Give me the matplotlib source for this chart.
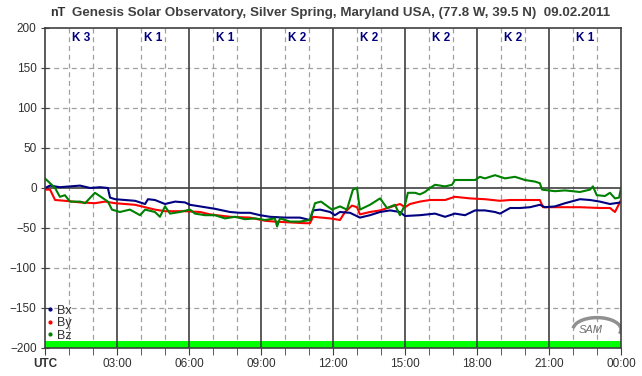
import matplotlib.pyplot as plt
import numpy as np
from matplotlib.lines import Line2D
from matplotlib.patches import Arc

# Magnetometer components (nT), time in UTC hours
bx_t = [0.0, 0.21, 0.62, 1.04, 1.46, 1.88, 2.29, 2.62, 2.71, 2.92, 3.33, 3.75, 4.17, 4.29,
        4.58, 5.0, 5.42, 5.83, 6.04, 6.46, 7.08, 7.71, 8.12, 8.54, 8.96, 9.38, 10.0, 10.62,
        11.04, 11.17, 11.46, 11.88, 12.08, 12.29, 12.71, 13.12, 13.54, 13.96, 14.38, 14.79,
        15.0, 15.62, 16.25, 16.67, 17.08, 17.5, 17.92, 18.33, 18.75, 18.96, 19.38, 19.79,
        20.21, 20.62, 20.83, 21.25, 21.67, 22.29, 22.71, 23.12, 23.54, 24.0]
bx_v = [0, 3, 1, 2, 3, 0, 1, 0, -12, -14, -15, -16, -20, -14,
        -15, -20, -17, -18, -21, -23, -26, -30, -31, -31, -34, -36, -37, -37,
        -40, -28, -27, -30, -34, -30, -31, -37, -34, -30, -28, -30,
        -35, -34, -32, -36, -32, -34, -28, -28, -30, -32, -25, -25,
        -24, -21, -24, -23, -19, -14, -15, -17, -20, -18]

by_t = [0.0, 0.21, 0.42, 0.83, 1.46, 2.08, 2.5, 2.92, 3.33, 3.75, 4.17, 4.58, 5.0, 5.83,
        6.46, 6.88, 7.71, 8.54, 9.17, 9.58, 10.21, 10.83, 11.04, 11.17, 11.88, 12.29, 12.5,
        12.79, 13.0, 13.12, 13.54, 13.96, 14.38, 14.79, 15.0, 15.21, 15.62, 16.04, 16.67,
        17.08, 17.71, 18.33, 18.96, 19.38, 20.0, 20.62, 20.75, 21.46, 22.29, 23.12, 23.54,
        23.75, 24.0]
by_v = [-2, -2, -15, -16, -18, -19, -17, -19, -20, -21, -24, -27, -29, -29,
        -30, -33, -36, -37, -41, -42, -43, -44, -44, -36, -38, -40, -30,
        -22, -24, -33, -30, -28, -24, -20, -24, -20, -17, -15, -15,
        -11, -13, -14, -16, -15, -15, -15, -24, -24, -24, -25, -25,
        -30, -15]

bz_t = [0.0, 0.21, 0.42, 0.62, 0.83, 1.04, 1.46, 1.67, 2.08, 2.33, 2.62, 2.79, 3.12, 3.54,
        3.96, 4.17, 4.58, 4.79, 5.0, 5.21, 5.62, 6.04, 6.25, 6.67, 7.08, 7.5, 7.92, 8.33,
        8.75, 9.17, 9.58, 9.67, 9.79, 10.21, 10.62, 11.04, 11.25, 11.5, 11.96, 12.29, 12.58,
        12.83, 13.0, 13.12, 13.54, 13.96, 14.25, 14.58, 14.79, 15.0, 15.12, 15.42, 15.62,
        15.83, 16.04, 16.25, 16.67, 16.96, 17.08, 17.5, 17.92, 18.12, 18.33, 18.75, 19.17,
        19.58, 20.0, 20.42, 20.62, 20.71, 21.25, 21.67, 22.29, 22.71, 22.83, 22.99, 23.33,
        23.54, 23.75, 23.92, 24.0]
bz_v = [12, 6, 0, -11, -9, -17, -17, -19, -6, -11, -17, -27, -30, -27,
        -34, -27, -30, -36, -23, -32, -30, -27, -32, -34, -34, -38, -36, -39,
        -38, -40, -38, -48, -38, -42, -42, -40, -19, -17, -27, -23, -27,
        -2, 0, -27, -21, -13, -25, -21, -34, -21, -6, -6, -8,
        -5, 0, 4, 2, 4, 10, 10, 10, 14, 12, 16, 12,
        14, 10, 8, 6, -2, -4, -3, -5, -2, 2, -9, -10,
        -6, -13, -12, 0]

k_index = [3, 1, 1, 2, 2, 2, 2, 1]
hour_labels = ['UTC', '03:00', '06:00', '09:00', '12:00', '15:00', '18:00', '21:00', '00:00']

dark = '#404040'
plt.rcParams['font.family'] = ['Liberation Sans', 'DejaVu Sans']

fig = plt.figure(figsize=(6.42, 3.76), dpi=100)
ax = fig.add_axes([45 / 642, 1 - 348 / 376, 576 / 642, 320 / 376])

ax.set_xlim(0, 24)
ax.set_ylim(-200, 200)

# grid
for h in range(1, 24):
    if h % 3 == 0:
        ax.axvline(h, color=dark, lw=1.2, zorder=3)
    else:
        ax.axvline(h, color='#a0a0a0', lw=0.9, ls=(0, (4, 3)), zorder=1)
for y in range(-150, 200, 50):
    if y == 0:
        ax.axhline(0, color=dark, lw=1.2, zorder=1)
    else:
        ax.axhline(y, color='#a0a0a0', lw=0.9, ls=(0, (4, 3)), zorder=1)

# green band at the bottom
ax.axhspan(-200, -191, color='#00ff00', lw=0, zorder=2)

ax.plot(by_t, by_v, color='#ff0000', lw=1.5, zorder=4)
ax.plot(bx_t, bx_v, color='#000080', lw=1.5, zorder=5)
ax.plot(bz_t, bz_v, color='#008000', lw=1.5, zorder=6)

# K indices
for i, k in enumerate(k_index):
    ax.text(3 * i + 1.5, 188, 'K %d' % k, color='#000080', fontsize=8.5,
            fontweight='bold', ha='center', va='center', zorder=7)

ax.set_xticks(np.arange(0, 25, 3))
ax.set_xticks(np.arange(0, 25, 1), minor=True)
ax.set_xticklabels(hour_labels)
ax.get_xticklabels()[0].set_fontweight('bold')
ax.set_yticks(np.arange(-200, 201, 50))
ax.tick_params(axis='x', which='both', direction='out', length=5, color=dark,
               labelcolor='#303030', labelsize=8.5, pad=2)
ax.tick_params(axis='y', direction='inout', length=6, color=dark,
               labelcolor='#303030', labelsize=8.5, pad=3)
for s in ax.spines.values():
    s.set_color(dark)
    s.set_linewidth(1.2)
    s.set_zorder(8)

# legend
handles = [Line2D([], [], marker='o', ms=2, ls='none', color=c)
           for c in ['#000080', '#ff0000', '#008000']]
leg = ax.legend(handles, ['Bx', 'By', 'Bz'], loc='lower left',
                bbox_to_anchor=(-0.01, -0.004), frameon=False, fontsize=9,
                handlelength=0.5, handletextpad=0.3, labelspacing=0.05,
                borderaxespad=0.2)
for t in leg.get_texts():
    t.set_color('#303030')

# SAM logo
ax.text(22.75, -178, 'SAM', fontsize=8, style='italic', color='#707070',
        ha='center', va='center', zorder=7)
ax.add_patch(Arc((23.0, -177), 2.0, 30, theta1=-80, theta2=120, color='#909090',
                 lw=2.5, zorder=7))

fig.text(58 / 642, 1 - 13 / 376, 'nT', fontsize=9, fontweight='bold',
         color='#303030', ha='center', va='center')
fig.text(341 / 642, 1 - 13 / 376,
         'Genesis Solar Observatory, Silver Spring, Maryland USA, (77.8 W, 39.5 N)  09.02.2011',
         fontsize=9.6, fontweight='bold', color='#404040', ha='center', va='center')

fig.savefig('out.png', dpi=100, facecolor='white')
